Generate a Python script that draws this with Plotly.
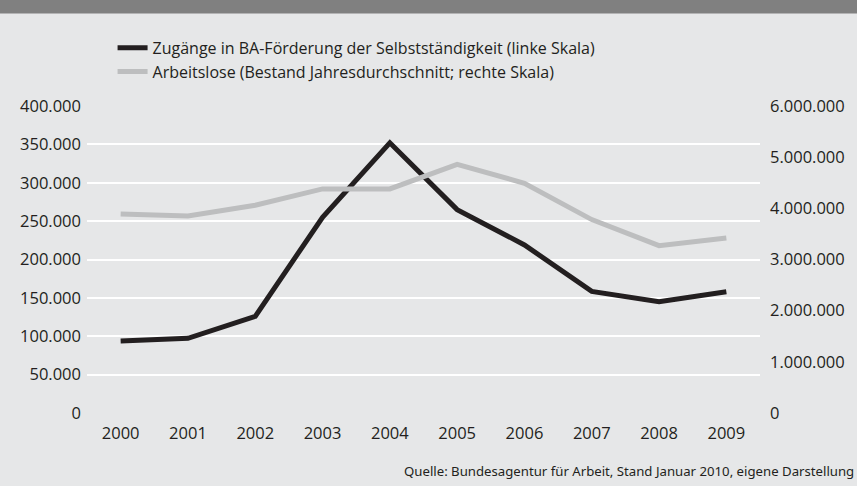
import plotly.graph_objects as go

years = ["2000", "2001", "2002", "2003", "2004", "2005", "2006", "2007", "2008", "2009"]
zugaenge = [93800, 97300, 126000, 255000, 352000, 265000, 219000, 158500, 145000, 158000]
arbeitslose = [3890000, 3850000, 4060000, 4380000, 4380000, 4860000, 4490000, 3780000, 3270000, 3420000]
left_ticks = [0, 50000, 100000, 150000, 200000, 250000, 300000, 350000, 400000]
right_ticks = [0, 1000000, 2000000, 3000000, 4000000, 5000000, 6000000]

BG = "#e6e7e8"
DARK = "#231f20"
GREY = "#bdbebf"
FONT = "Open Sans"

fig = go.Figure()
fig.add_trace(go.Scatter(x=years, y=arbeitslose, mode="lines", name="Arbeitslose (Bestand Jahresdurchschnitt; rechte Skala)",
                         line=dict(color=GREY, width=5), yaxis="y2"))
fig.add_trace(go.Scatter(x=years, y=zugaenge, mode="lines", name="Zugänge in BA-Förderung der Selbstständigkeit (linke Skala)",
                         line=dict(color=DARK, width=5), yaxis="y"))

fig.update_layout(
    width=857, height=486,
    paper_bgcolor=BG, plot_bgcolor=BG,
    separators=",.",
    margin=dict(l=87, r=93, t=106, b=73),
    font=dict(family=FONT, size=16, color=DARK),
    showlegend=True,
    legend=dict(x=0.038, y=1.245, xanchor="left", yanchor="top", traceorder="reversed",
                bgcolor="rgba(0,0,0,0)", font=dict(family=FONT, size=16, color=DARK),
                tracegroupgap=0, itemwidth=30),
    xaxis=dict(type="category", showgrid=False, zeroline=False, showline=False, ticks="",
               tickfont=dict(size=16.5), range=[-0.5, 9.5], ticklabelstandoff=8),
    yaxis=dict(range=[0, 400000], tickvals=left_ticks, tickformat=",d", showgrid=True,
               gridcolor="white", gridwidth=1.5, zeroline=False, showline=False, ticks="",
               ticklabelstandoff=5, tickfont=dict(size=16.5)),
    yaxis2=dict(range=[0, 6000000], tickvals=right_ticks, tickformat=",d", overlaying="y", side="right",
                showgrid=False, zeroline=False, showline=False, ticks="", ticklabelstandoff=9,
                tickfont=dict(size=16.5)),
    shapes=[dict(type="rect", xref="paper", yref="paper", x0=-0.2, x1=1.2, y0=(413 - 13.5) / 307, y1=2.0,
                 fillcolor="#808080", line=dict(width=0), layer="above")],
    annotations=[dict(text="Quelle: Bundesagentur für Arbeit, Stand Januar 2010, eigene Darstellung",
                      xref="paper", yref="paper", x=1.142, y=-0.19, xanchor="right", yanchor="middle",
                      showarrow=False, font=dict(family="Noto Sans", size=13.2, color=DARK))],
)
fig.write_html("out.html", config={"displayModeBar": False},
               post_script="document.body.style.margin='0';document.body.style.padding='0';")
